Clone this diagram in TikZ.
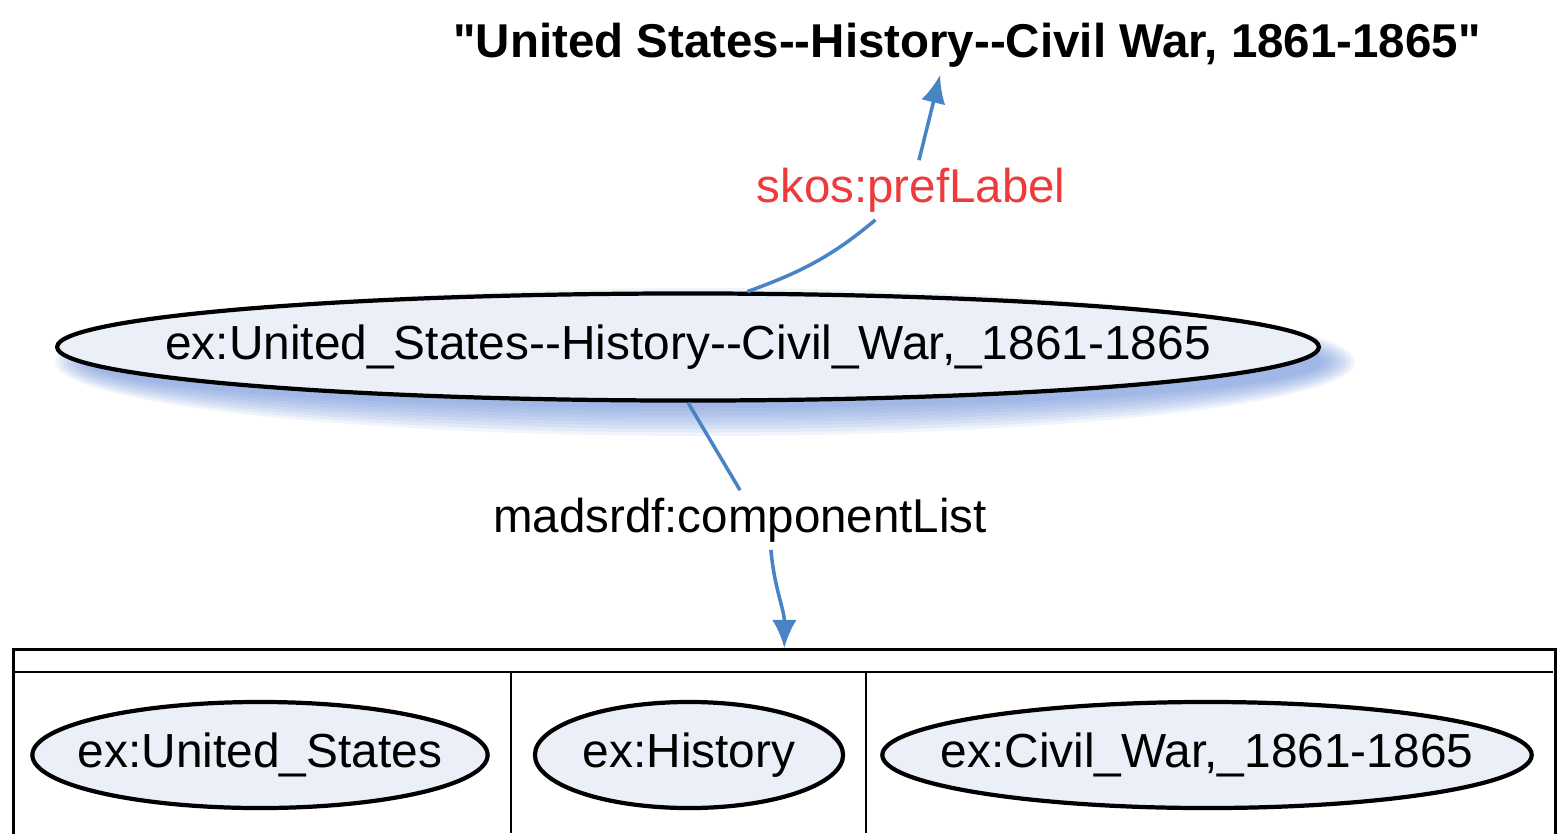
\documentclass[tikz,border=0pt]{standalone}
\usepackage{fontspec}
\setmainfont{Liberation Sans}[Ligatures=TeXOff]
\usepackage{tikz}
\usetikzlibrary{arrows.meta,shapes,backgrounds}
\definecolor{linkblue}{RGB}{72,132,196}
\definecolor{labelred}{RGB}{238,58,58}
\definecolor{entfill}{RGB}{234,239,248}
\definecolor{shadowblue}{RGB}{90,130,210}
\newcommand{\enttext}[1]{\makebox[0pt]{#1}}

\begin{document}
\begin{tikzpicture}[x=0.01cm,y=-0.01cm,
    ent/.style={ellipse,draw,line width=1.2pt,fill=entfill,inner sep=0pt,font=\fontsize{13.6}{15}\selectfont},
    lbl/.style={font=\fontsize{13.5}{15}\selectfont,inner sep=2pt},
    link/.style={draw=linkblue,line width=1pt},
    tip/.style={-{Latex[length=8pt,width=7pt]}}]
    \useasboundingbox (0,0) rectangle (1558,833);

    \node[lbl,font=\fontsize{13.5}{15}\selectfont\bfseries] at (967,45) (title) {"United States--History--Civil War, 1861-1865"};
    \node[ent,minimum width=12.61cm,minimum height=1.07cm] at (688,347) (main) {\enttext{ex:United\_States--History--Civil\_War,\_1861-1865}};
    \node[lbl,text=labelred] at (911,190) (pref) {skos:prefLabel};
    \node[lbl] at (740,520) (comp) {madsrdf:componentList};

    % shadow
    \begin{scope}[on background layer]
      \foreach \d in {0,...,8}
        \fill[shadowblue,opacity=0.09] (705,362) ellipse [x radius=618+4*\d, y radius=46+3.5*\d];
    \end{scope}

    % list
    \node[draw,line width=0.8pt,minimum width=15.41cm,minimum height=2.5cm,anchor=north west,inner sep=0pt] at (12,648) (list) {};
    \draw[line width=0.8pt] (12,672) -- (1553,672);
    \draw[line width=0.8pt] (511,672) -- (511,833);
    \draw[line width=0.8pt] (866,672) -- (866,833);

    \node[ent,minimum width=4.55cm,minimum height=1.06cm] at (260,755) (us) {\enttext{ex:United\_States}};
    \node[ent,minimum width=3.08cm,minimum height=1.06cm] at (689,755) (hist) {\enttext{ex:History}};
    \node[ent,minimum width=6.49cm,minimum height=1.06cm] at (1207,755) (war) {\enttext{ex:Civil\_War,\_1861-1865}};

    \draw[link] (main.43) to[out=20,in=220] (pref.220);
    \draw[link,tip] (pref.75) -- (title.228);
    \draw[link] (main.south) -- (comp.north);
    \draw[link,tip] (comp.316) to[out=-85,in=90] (list.north);
\end{tikzpicture}
\end{document}
